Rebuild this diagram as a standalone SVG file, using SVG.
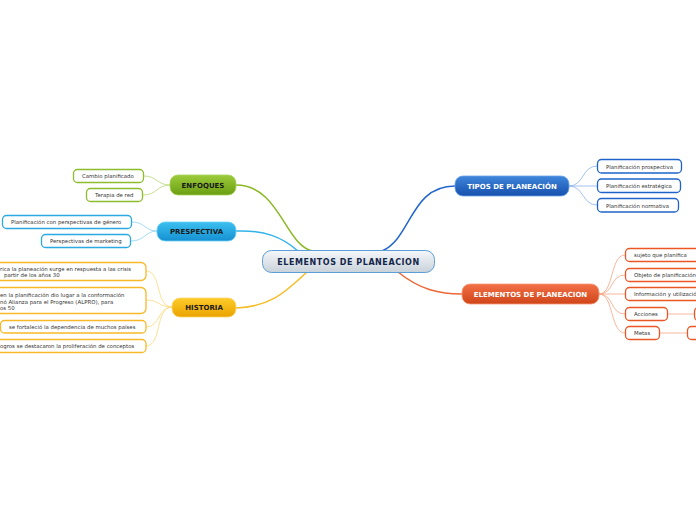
<svg xmlns="http://www.w3.org/2000/svg" width="696" height="520" viewBox="0 0 696 520">
<defs>
<linearGradient id="gMain" x1="0" y1="0" x2="0" y2="1"><stop offset="0" stop-color="#f4f7fa"/><stop offset="1" stop-color="#c9d2da"/></linearGradient>
<linearGradient id="gGreen" x1="0" y1="0" x2="0" y2="1"><stop offset="0" stop-color="#9ccc3c"/><stop offset="1" stop-color="#6a9e12"/></linearGradient>
<linearGradient id="gCyan" x1="0" y1="0" x2="0" y2="1"><stop offset="0" stop-color="#3cc0ef"/><stop offset="1" stop-color="#1590d2"/></linearGradient>
<linearGradient id="gYellow" x1="0" y1="0" x2="0" y2="1"><stop offset="0" stop-color="#fdcc2a"/><stop offset="1" stop-color="#eaa300"/></linearGradient>
<linearGradient id="gBlue" x1="0" y1="0" x2="0" y2="1"><stop offset="0" stop-color="#3f86dc"/><stop offset="1" stop-color="#1650ad"/></linearGradient>
<linearGradient id="gOrange" x1="0" y1="0" x2="0" y2="1"><stop offset="0" stop-color="#f37046"/><stop offset="1" stop-color="#cf4519"/></linearGradient>
</defs>
<style>
text{font-family:"DejaVu Sans","Liberation Sans",sans-serif;}
.t{font-size:5.4px;fill:#333;}
.b{font-size:7px;font-weight:bold;text-anchor:middle;}
.leaf{fill:#fff;stroke-width:1.3;}
.lg{stroke:#8cbd2c;}
.lc{stroke:#2aa9e3;}
.ly{stroke:#f7b928;}
.lb{stroke:#1f63c9;}
.lo{stroke:#ea5726;}
.c{fill:none;}
.sub{fill:none;stroke-width:0.8;}
</style>
<g id="connectors">
<path class="c" d="M236,185 C280,185 285,246 313,251" stroke="#8ab824" stroke-width="1.5"/>
<path class="c" d="M236,231 C265,230 282,237 298,251" stroke="#33b3ea" stroke-width="1.5"/>
<path class="c" d="M236,308 C272,307 287,290 307,272" stroke="#f6bd2a" stroke-width="1.5"/>
<path class="c" d="M455,186 C410,186 412,238 382,251" stroke="#2366cc" stroke-width="1.5"/>
<path class="c" d="M398,272 C420,290 440,294 462,294" stroke="#ee6636" stroke-width="1.5"/>
<g stroke="#b8d874">
<path class="sub" d="M170,185 C157,185 157,176 144,176"/>
<path class="sub" d="M170,185 C157,185 157,195 143,195"/>
</g>
<g stroke="#8dd3f3">
<path class="sub" d="M157,231 C145,231 145,222 132,222"/>
<path class="sub" d="M157,231 C145,231 145,241 131,241"/>
</g>
<g stroke="#fad97a">
<path class="sub" d="M172,307 C155,307 162,271 146,271"/>
<path class="sub" d="M172,307 C158,307 160,300 146,300"/>
<path class="sub" d="M172,307 C158,307 160,327 146,327"/>
<path class="sub" d="M172,307 C155,307 162,346 146,346"/>
</g>
<g stroke="#8db3ea">
<path class="sub" d="M569,186 C584,186 582,166 597,166"/>
<path class="sub" d="M569,186 L597,186"/>
<path class="sub" d="M569,186 C584,186 582,205 597,205"/>
</g>
<g stroke="#f6a585">
<path class="sub" d="M599,294 C614,294 610,255 625,255"/>
<path class="sub" d="M599,294 C614,294 610,275 625,275"/>
<path class="sub" d="M599,294 L625,294"/>
<path class="sub" d="M599,294 C614,294 610,314 625,314"/>
<path class="sub" d="M599,294 C614,294 610,333 625,333"/>
<path class="sub" d="M668,314 L694,314"/>
<path class="sub" d="M660,333 L687,333"/>
</g>
</g>
<g id="main">
<rect x="262.5" y="250.5" width="172" height="22" rx="9" fill="url(#gMain)" stroke="#5c9fd8" stroke-width="1"/>
<text x="348.5" y="264.5" class="b" style="font-size:8px;letter-spacing:0.55px" fill="#14264a">ELEMENTOS DE PLANEACION</text>
</g>
<g id="enfoques">
<rect x="170" y="175" width="66" height="20" rx="8" fill="url(#gGreen)" stroke="#a9d35a" stroke-width="0.8"/>
<text x="203" y="187.5" class="b" fill="#1a1a1a">ENFOQUES</text>
</g>
<g id="cambio"><rect x="73.5" y="169.5" width="70" height="13" rx="4" class="leaf lg"/><text x="82" y="178" class="t">Cambio planificado</text></g>
<g id="terapia"><rect x="86.5" y="188.5" width="56" height="13" rx="4" class="leaf lg"/><text x="95" y="197" class="t">Terapia de red</text></g>
<g id="prespectiva">
<rect x="157" y="222" width="79" height="19" rx="8" fill="url(#gCyan)" stroke="#6fd0f5" stroke-width="0.8"/>
<text x="196.5" y="234" class="b" fill="#1a1a1a">PRESPECTIVA</text>
</g>
<g id="genero"><rect x="2.5" y="215.5" width="129" height="13" rx="4" class="leaf lc"/><text x="11" y="224" class="t">Planificación con perspectivas de género</text></g>
<g id="marketing"><rect x="41.5" y="234.5" width="89" height="13" rx="4" class="leaf lc"/><text x="50" y="243" class="t">Perspectivas de marketing</text></g>
<g id="historia">
<rect x="172" y="298" width="64" height="19" rx="8" fill="url(#gYellow)" stroke="#fcd66a" stroke-width="0.8"/>
<text x="204" y="310" class="b" fill="#1a1a1a">HISTORIA</text>
</g>
<g id="h1"><rect x="-20" y="262.5" width="166" height="18" rx="5" class="leaf ly"/><text x="0" y="270.5" class="t">rica la planeación surge en respuesta a las crisis</text><text x="4" y="277" class="t">partir de los años 30</text></g>
<g id="h2"><rect x="-20" y="287.5" width="166" height="26" rx="5" class="leaf ly"/><text x="0" y="297" class="t">en la planificación dio lugar a la conformación</text><text x="0" y="303.5" class="t">nó Alianza para el Progreso (ALPRO), para</text><text x="0" y="310" class="t">os 50</text></g>
<g id="h3"><rect x="0.5" y="320.5" width="145.5" height="12.5" rx="4" class="leaf ly"/><text x="9" y="329" class="t">se fortaleció la dependencia de muchos países</text></g>
<g id="h4"><rect x="-20" y="339.5" width="166" height="13" rx="4" class="leaf ly"/><text x="0" y="348" class="t">ogros se destacaron la proliferación de conceptos</text></g>
<g id="tipos">
<rect x="455" y="176" width="114" height="20" rx="8" fill="url(#gBlue)" stroke="#6aa3ea" stroke-width="0.8"/>
<text x="512" y="188.5" class="b" fill="#ffffff">TIPOS DE PLANEACIÓN</text>
</g>
<g id="prospectiva"><rect x="597.5" y="159.5" width="84" height="13.5" rx="4" class="leaf lb"/><text x="606" y="168.5" class="t">Planificación prospectiva</text></g>
<g id="estrategica"><rect x="597.5" y="179" width="83" height="13.5" rx="4" class="leaf lb"/><text x="606" y="188" class="t">Planificación estratégica</text></g>
<g id="normativa"><rect x="597.5" y="198.5" width="81" height="13.5" rx="4" class="leaf lb"/><text x="606" y="207.5" class="t">Planificación normativa</text></g>
<g id="elementos">
<rect x="462" y="284" width="137" height="20" rx="8" fill="url(#gOrange)" stroke="#f59a76" stroke-width="0.8"/>
<text x="530.5" y="296.5" class="b" fill="#ffffff">ELEMENTOS DE PLANEACION</text>
</g>
<g id="sujeto"><rect x="625.5" y="248.5" width="80" height="13" rx="4" class="leaf lo"/><text x="634" y="257" class="t">sujeto que planifica</text></g>
<g id="objeto"><rect x="625.5" y="268.5" width="80" height="13" rx="4" class="leaf lo"/><text x="634" y="277" class="t">Objeto de planificación</text></g>
<g id="informacion"><rect x="625.5" y="287.5" width="80" height="13" rx="4" class="leaf lo"/><text x="634" y="296" class="t">Información y utilización</text></g>
<g id="acciones"><rect x="625.5" y="307.5" width="42" height="13" rx="4" class="leaf lo"/><text x="634" y="316" class="t">Acciones</text></g>
<g id="metas"><rect x="625.5" y="326.5" width="34" height="13" rx="4" class="leaf lo"/><text x="634" y="335" class="t">Metas</text></g>
<g id="acciones-child"><rect x="694.5" y="307.5" width="40" height="13" rx="4" class="leaf lo"/></g>
<g id="metas-child"><rect x="687.5" y="326.5" width="40" height="13" rx="4" class="leaf lo"/></g>
</svg>
